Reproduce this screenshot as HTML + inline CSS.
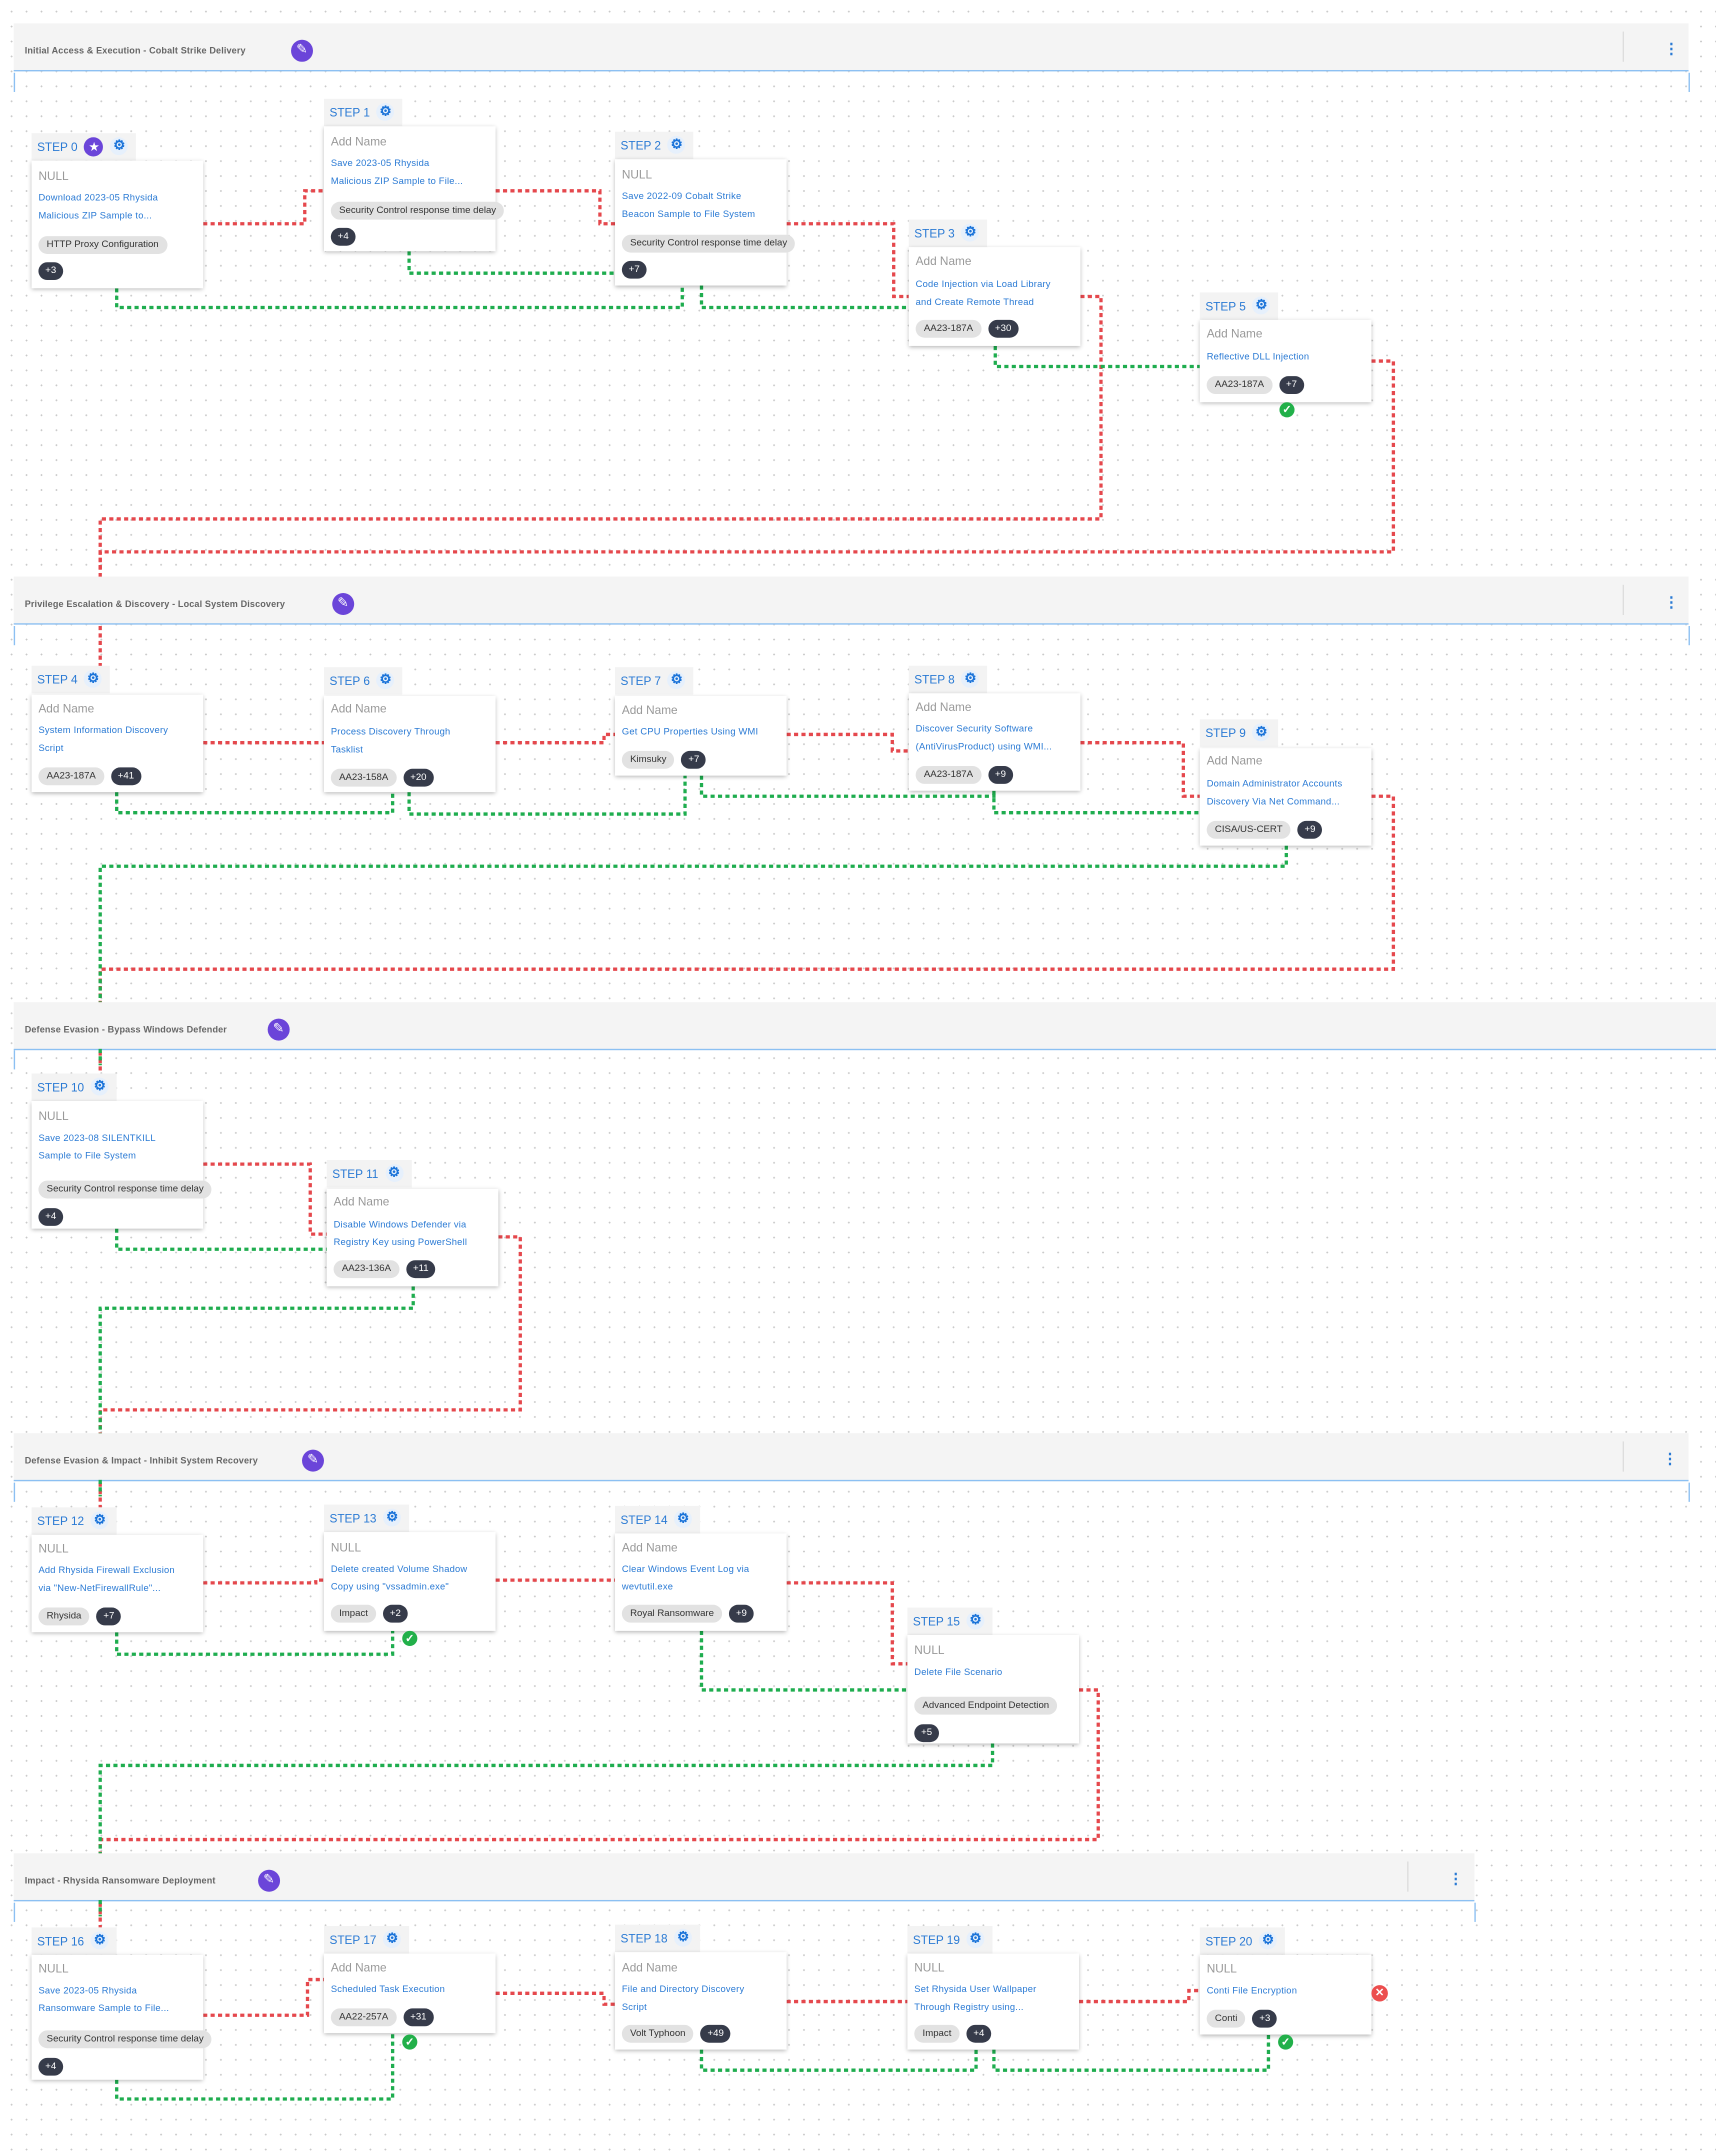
<!DOCTYPE html>
<html><head><meta charset="utf-8">
<style>
html,body{margin:0;padding:0;width:1716px;height:2153px;overflow:hidden;background:#fff;font-family:"Liberation Sans",sans-serif}
#wrap{position:absolute;left:0;top:0;width:1250px;height:1568px;transform:scale(1.3728);transform-origin:0 0;
background-image:radial-gradient(circle,#c8c8c8 0.55px,transparent 0.7px);background-size:10.9px 10.9px;background-position:3px 3px}
.hd{position:absolute;left:10px;width:1220px;height:34px;background:#f4f4f4;border-bottom:1.5px solid #8cc0f2}
.box{position:absolute;left:10px;width:1219px;height:14px;border-left:1px solid #8cc0f2;border-right:1px solid #8cc0f2}
.ttl{position:absolute;left:8px;top:17px;font-size:6.6px;color:#666;font-weight:bold;letter-spacing:0.1px}
.pen{position:absolute;top:12px;width:16px;height:16px;border-radius:50%;background:#6b45d9;color:#fff;font-size:10px;line-height:16px;text-align:center}
.vd{position:absolute;top:6px;width:1px;height:22px;background:#ddd}
.dots{position:absolute;top:10px;color:#2a7ad4;font-size:11px;font-weight:bold;line-height:18px}
.tab{position:absolute;height:20px;background:#f3f3f3;padding-left:4px;padding-right:6px;color:#2a7ad4;font-size:8.6px;line-height:20px;white-space:nowrap}
.gear{display:inline-block;width:13px;height:13px;border-radius:50%;background:#e6f0fc;color:#1a73d9;font-size:10px;line-height:13px;text-align:center;vertical-align:middle;margin-left:5px;margin-top:-2px;font-weight:bold}
.star{display:inline-block;width:14px;height:14px;border-radius:50%;background:#6b45d9;color:#fff;font-size:9px;line-height:14px;text-align:center;vertical-align:middle;margin-left:5px;margin-top:-2px}
.card{position:absolute;width:125px;background:#fff;box-shadow:0 1px 3px rgba(0,0,0,0.3)}
.card>div{position:absolute;left:5px;white-space:nowrap}
.g{font-size:8.6px;color:#999;line-height:10px}
.l{font-size:6.8px;color:#2a7ad4;line-height:12.5px;letter-spacing:0.15px}
.row{display:flex;gap:5px}
.chip{height:13px;line-height:13px;border-radius:7px;background:#e2e2e2;color:#333;font-size:7px;padding:0 6px;display:inline-block}
.b{height:13px;line-height:13px;border-radius:7px;background:#363b4a;color:#fff;font-size:7px;padding:0 5px;display:inline-block}
.ok{position:absolute;width:11px;height:11px;border-radius:50%;background:#22b04a;color:#fff;font-size:8px;line-height:11px;text-align:center;font-weight:bold}
.x{position:absolute;width:12px;height:12px;border-radius:50%;background:#ec4e4e;color:#fff;font-size:8px;line-height:12px;text-align:center;font-weight:bold}
svg{position:absolute;left:0;top:0}
</style></head><body><div id="wrap">

<div class="hd" style="top:17px"><div class="ttl">Initial Access &amp; Execution - Cobalt Strike Delivery</div><div class="pen" style="left:202px">✎</div><div class="vd" style="left:1172px"></div><div class="dots" style="left:1202px">⋮</div></div>
<div class="box" style="top:53px"></div>
<div class="hd" style="top:420px"><div class="ttl">Privilege Escalation &amp; Discovery - Local System Discovery</div><div class="pen" style="left:232px">✎</div><div class="vd" style="left:1172px"></div><div class="dots" style="left:1202px">⋮</div></div>
<div class="box" style="top:456px"></div>
<div class="hd" style="top:730px;width:1240px"><div class="ttl">Defense Evasion - Bypass Windows Defender</div><div class="pen" style="left:185px">✎</div></div>
<div class="box" style="top:765px;width:1240px;border-right:none"></div>
<div class="hd" style="top:1044px"><div class="ttl">Defense Evasion &amp; Impact - Inhibit System Recovery</div><div class="pen" style="left:210px">✎</div><div class="vd" style="left:1172px"></div><div class="dots" style="left:1201px">⋮</div></div>
<div class="box" style="top:1080px"></div>
<div class="hd" style="top:1350px;width:1064px"><div class="ttl">Impact - Rhysida Ransomware Deployment</div><div class="pen" style="left:178px">✎</div><div class="vd" style="left:1015px"></div><div class="dots" style="left:1045px">⋮</div></div>
<div class="box" style="top:1386px;width:1063px"></div>

<svg width="1250" height="1568" viewBox="0 0 1250 1568" fill="none" stroke-width="2.4" stroke-dasharray="3 2.4">
<g stroke="#e5484d">
<polyline points="148,163 222,163 222,139 236,139"/>
<polyline points="361,139 437,139 437,163 448,163"/>
<polyline points="573,163 651,163 651,216 662,216"/>
<polyline points="787,216 802,216 802,378 73,378 73,415"/>
<polyline points="999,263 1015,263 1015,402 73,402 73,420"/>
<polyline points="73,456 73,494"/>
<polyline points="148,541 236,541"/>
<polyline points="361,541 440,541 440,535 448,535"/>
<polyline points="573,535 650,535 650,547 662,547"/>
<polyline points="787,541 862,541 862,580 874,580"/>
<polyline points="999,580 1015,580 1015,706 73,706 73,730"/>
<polyline points="148,848 226,848 226,899 238,899"/>
<polyline points="363,901 379,901 379,1027 73,1027 73,1044"/>
<polyline points="148,1153 230,1153 230,1151 236,1151"/>
<polyline points="361,1151 448,1151"/>
<polyline points="573,1153 650,1153 650,1212 661,1212"/>
<polyline points="786,1231 800,1231 800,1340 73,1340 73,1350"/>
<polyline points="148,1468 224,1468 224,1442 236,1442"/>
<polyline points="361,1452 440,1452 440,1460 448,1460"/>
<polyline points="573,1458 661,1458"/>
<polyline points="786,1458 866,1458 866,1450 874,1450"/>
<polyline points="73,1386 73,1404"/>
<polyline points="73,766 73,782"/>
<polyline points="73,1080 73,1098"/>
</g>
<g stroke="#1fad4f">
<polyline points="85,210 85,224 497,224 497,208"/>
<polyline points="298,183 298,199 448,199"/>
<polyline points="511,208 511,224 662,224"/>
<polyline points="725,252 725,267 874,267"/>
<polyline points="85,577 85,592 286,592 286,577"/>
<polyline points="298,577 298,593 499,593 499,565"/>
<polyline points="511,565 511,580 724,580 724,576"/>
<polyline points="724,576 724,592 874,592"/>
<polyline points="937,616 937,631 73,631 73,730"/>
<polyline points="73,764 73,776"/>
<polyline points="85,895 85,910 238,910"/>
<polyline points="301,937 301,953 73,953 73,1044"/>
<polyline points="73,1078 73,1090"/>
<polyline points="85,1189 85,1205 286,1205 286,1188"/>
<polyline points="511,1188 511,1231 661,1231"/>
<polyline points="723,1270 723,1286 73,1286 73,1350"/>
<polyline points="73,1384 73,1396"/>
<polyline points="85,1515 85,1529 286,1529 286,1481"/>
<polyline points="511,1493 511,1508 711,1508 711,1493"/>
<polyline points="724,1493 724,1508 924,1508 924,1482"/>
</g>
</svg>

<div class="tab" style="left:23px;top:97px">STEP 0<span class="star">★</span><span class="gear">⚙</span></div>
<div class="card" style="left:23px;top:117px;height:93px"><div class="g" style="top:6px">NULL</div><div class="l" style="top:22px">Download 2023-05 Rhysida<br>Malicious ZIP Sample to...</div><div style="top:50px"><span class="chip">HTTP Proxy Configuration</span></div><div style="top:69px"><span class="b">+3</span></div></div>

<div class="tab" style="left:236px;top:72px">STEP 1<span class="gear">⚙</span></div>
<div class="card" style="left:236px;top:92px;height:91px"><div class="g" style="top:6px">Add Name</div><div class="l" style="top:22px">Save 2023-05 Rhysida<br>Malicious ZIP Sample to File...</div><div style="top:50px"><span class="chip">Security Control response time delay</span></div><div style="top:69px"><span class="b">+4</span></div></div>

<div class="tab" style="left:448px;top:96px">STEP 2<span class="gear">⚙</span></div>
<div class="card" style="left:448px;top:116px;height:92px"><div class="g" style="top:6px">NULL</div><div class="l" style="top:22px">Save 2022-09 Cobalt Strike<br>Beacon Sample to File System</div><div style="top:50px"><span class="chip">Security Control response time delay</span></div><div style="top:69px"><span class="b">+7</span></div></div>

<div class="tab" style="left:662px;top:160px">STEP 3<span class="gear">⚙</span></div>
<div class="card" style="left:662px;top:180px;height:72px"><div class="g" style="top:5px">Add Name</div><div class="l" style="top:22px">Code Injection via Load Library<br>and Create Remote Thread</div><div class="row" style="top:53px"><span class="chip">AA23-187A</span><span class="b">+30</span></div></div>

<div class="tab" style="left:874px;top:213px">STEP 5<span class="gear">⚙</span></div>
<div class="card" style="left:874px;top:233px;height:60px"><div class="g" style="top:5px">Add Name</div><div class="l" style="top:22px">Reflective DLL Injection</div><div class="row" style="top:41px"><span class="chip">AA23-187A</span><span class="b">+7</span></div></div>
<div class="ok" style="left:932px;top:293px">✓</div>

<div class="tab" style="left:23px;top:485px">STEP 4<span class="gear">⚙</span></div>
<div class="card" style="left:23px;top:506px;height:71px"><div class="g" style="top:5px">Add Name</div><div class="l" style="top:21px">System Information Discovery<br>Script</div><div class="row" style="top:53px"><span class="chip">AA23-187A</span><span class="b">+41</span></div></div>

<div class="tab" style="left:236px;top:486px">STEP 6<span class="gear">⚙</span></div>
<div class="card" style="left:236px;top:507px;height:70px"><div class="g" style="top:4px">Add Name</div><div class="l" style="top:21px">Process Discovery Through<br>Tasklist</div><div class="row" style="top:53px"><span class="chip">AA23-158A</span><span class="b">+20</span></div></div>

<div class="tab" style="left:448px;top:486px">STEP 7<span class="gear">⚙</span></div>
<div class="card" style="left:448px;top:507px;height:58px"><div class="g" style="top:5px">Add Name</div><div class="l" style="top:21px">Get CPU Properties Using WMI</div><div class="row" style="top:40px"><span class="chip">Kimsuky</span><span class="b">+7</span></div></div>

<div class="tab" style="left:662px;top:485px">STEP 8<span class="gear">⚙</span></div>
<div class="card" style="left:662px;top:505px;height:71px"><div class="g" style="top:5px">Add Name</div><div class="l" style="top:21px">Discover Security Software<br>(AntiVirusProduct) using WMI...</div><div class="row" style="top:53px"><span class="chip">AA23-187A</span><span class="b">+9</span></div></div>

<div class="tab" style="left:874px;top:524px">STEP 9<span class="gear">⚙</span></div>
<div class="card" style="left:874px;top:545px;height:71px"><div class="g" style="top:4px">Add Name</div><div class="l" style="top:21px">Domain Administrator Accounts<br>Discovery Via Net Command...</div><div class="row" style="top:53px"><span class="chip">CISA/US-CERT</span><span class="b">+9</span></div></div>

<div class="tab" style="left:23px;top:782px">STEP 10<span class="gear">⚙</span></div>
<div class="card" style="left:23px;top:802px;height:93px"><div class="g" style="top:6px">NULL</div><div class="l" style="top:22px">Save 2023-08 SILENTKILL<br>Sample to File System</div><div style="top:53px"><span class="chip">Security Control response time delay</span></div><div style="top:73px"><span class="b">+4</span></div></div>

<div class="tab" style="left:238px;top:845px">STEP 11<span class="gear">⚙</span></div>
<div class="card" style="left:238px;top:866px;height:71px"><div class="g" style="top:4px">Add Name</div><div class="l" style="top:21px">Disable Windows Defender via<br>Registry Key using PowerShell</div><div class="row" style="top:52px"><span class="chip">AA23-136A</span><span class="b">+11</span></div></div>

<div class="tab" style="left:23px;top:1098px">STEP 12<span class="gear">⚙</span></div>
<div class="card" style="left:23px;top:1118px;height:71px"><div class="g" style="top:5px">NULL</div><div class="l" style="top:21px">Add Rhysida Firewall Exclusion<br>via "New-NetFirewallRule"...</div><div class="row" style="top:53px"><span class="chip">Rhysida</span><span class="b">+7</span></div></div>

<div class="tab" style="left:236px;top:1096px">STEP 13<span class="gear">⚙</span></div>
<div class="card" style="left:236px;top:1116px;height:72px"><div class="g" style="top:6px">NULL</div><div class="l" style="top:22px">Delete created Volume Shadow<br>Copy using "vssadmin.exe"</div><div class="row" style="top:53px"><span class="chip">Impact</span><span class="b">+2</span></div></div>
<div class="ok" style="left:293px;top:1188px">✓</div>

<div class="tab" style="left:448px;top:1097px">STEP 14<span class="gear">⚙</span></div>
<div class="card" style="left:448px;top:1117px;height:71px"><div class="g" style="top:5px">Add Name</div><div class="l" style="top:21px">Clear Windows Event Log via<br>wevtutil.exe</div><div class="row" style="top:52px"><span class="chip">Royal Ransomware</span><span class="b">+9</span></div></div>

<div class="tab" style="left:661px;top:1171px">STEP 15<span class="gear">⚙</span></div>
<div class="card" style="left:661px;top:1191px;height:79px"><div class="g" style="top:6px">NULL</div><div class="l" style="top:22px">Delete File Scenario</div><div style="top:40px"><span class="chip">Advanced Endpoint Detection</span></div><div style="top:60px"><span class="b">+5</span></div></div>

<div class="tab" style="left:23px;top:1404px">STEP 16<span class="gear">⚙</span></div>
<div class="card" style="left:23px;top:1424px;height:91px"><div class="g" style="top:5px">NULL</div><div class="l" style="top:21px">Save 2023-05 Rhysida<br>Ransomware Sample to File...</div><div style="top:50px"><span class="chip">Security Control response time delay</span></div><div style="top:70px"><span class="b">+4</span></div></div>

<div class="tab" style="left:236px;top:1403px">STEP 17<span class="gear">⚙</span></div>
<div class="card" style="left:236px;top:1423px;height:58px"><div class="g" style="top:5px">Add Name</div><div class="l" style="top:21px">Scheduled Task Execution</div><div class="row" style="top:40px"><span class="chip">AA22-257A</span><span class="b">+31</span></div></div>
<div class="ok" style="left:293px;top:1482px">✓</div>

<div class="tab" style="left:448px;top:1402px">STEP 18<span class="gear">⚙</span></div>
<div class="card" style="left:448px;top:1422px;height:71px"><div class="g" style="top:6px">Add Name</div><div class="l" style="top:22px">File and Directory Discovery<br>Script</div><div class="row" style="top:53px"><span class="chip">Volt Typhoon</span><span class="b">+49</span></div></div>

<div class="tab" style="left:661px;top:1403px">STEP 19<span class="gear">⚙</span></div>
<div class="card" style="left:661px;top:1423px;height:70px"><div class="g" style="top:5px">NULL</div><div class="l" style="top:21px">Set Rhysida User Wallpaper<br>Through Registry using...</div><div class="row" style="top:52px"><span class="chip">Impact</span><span class="b">+4</span></div></div>

<div class="tab" style="left:874px;top:1404px">STEP 20<span class="gear">⚙</span></div>
<div class="card" style="left:874px;top:1424px;height:58px"><div class="g" style="top:5px">NULL</div><div class="l" style="top:21px">Conti File Encryption</div><div class="row" style="top:40px"><span class="chip">Conti</span><span class="b">+3</span></div></div>
<div class="x" style="left:999px;top:1446px">✕</div>
<div class="ok" style="left:931px;top:1482px">✓</div>

</div></body></html>
